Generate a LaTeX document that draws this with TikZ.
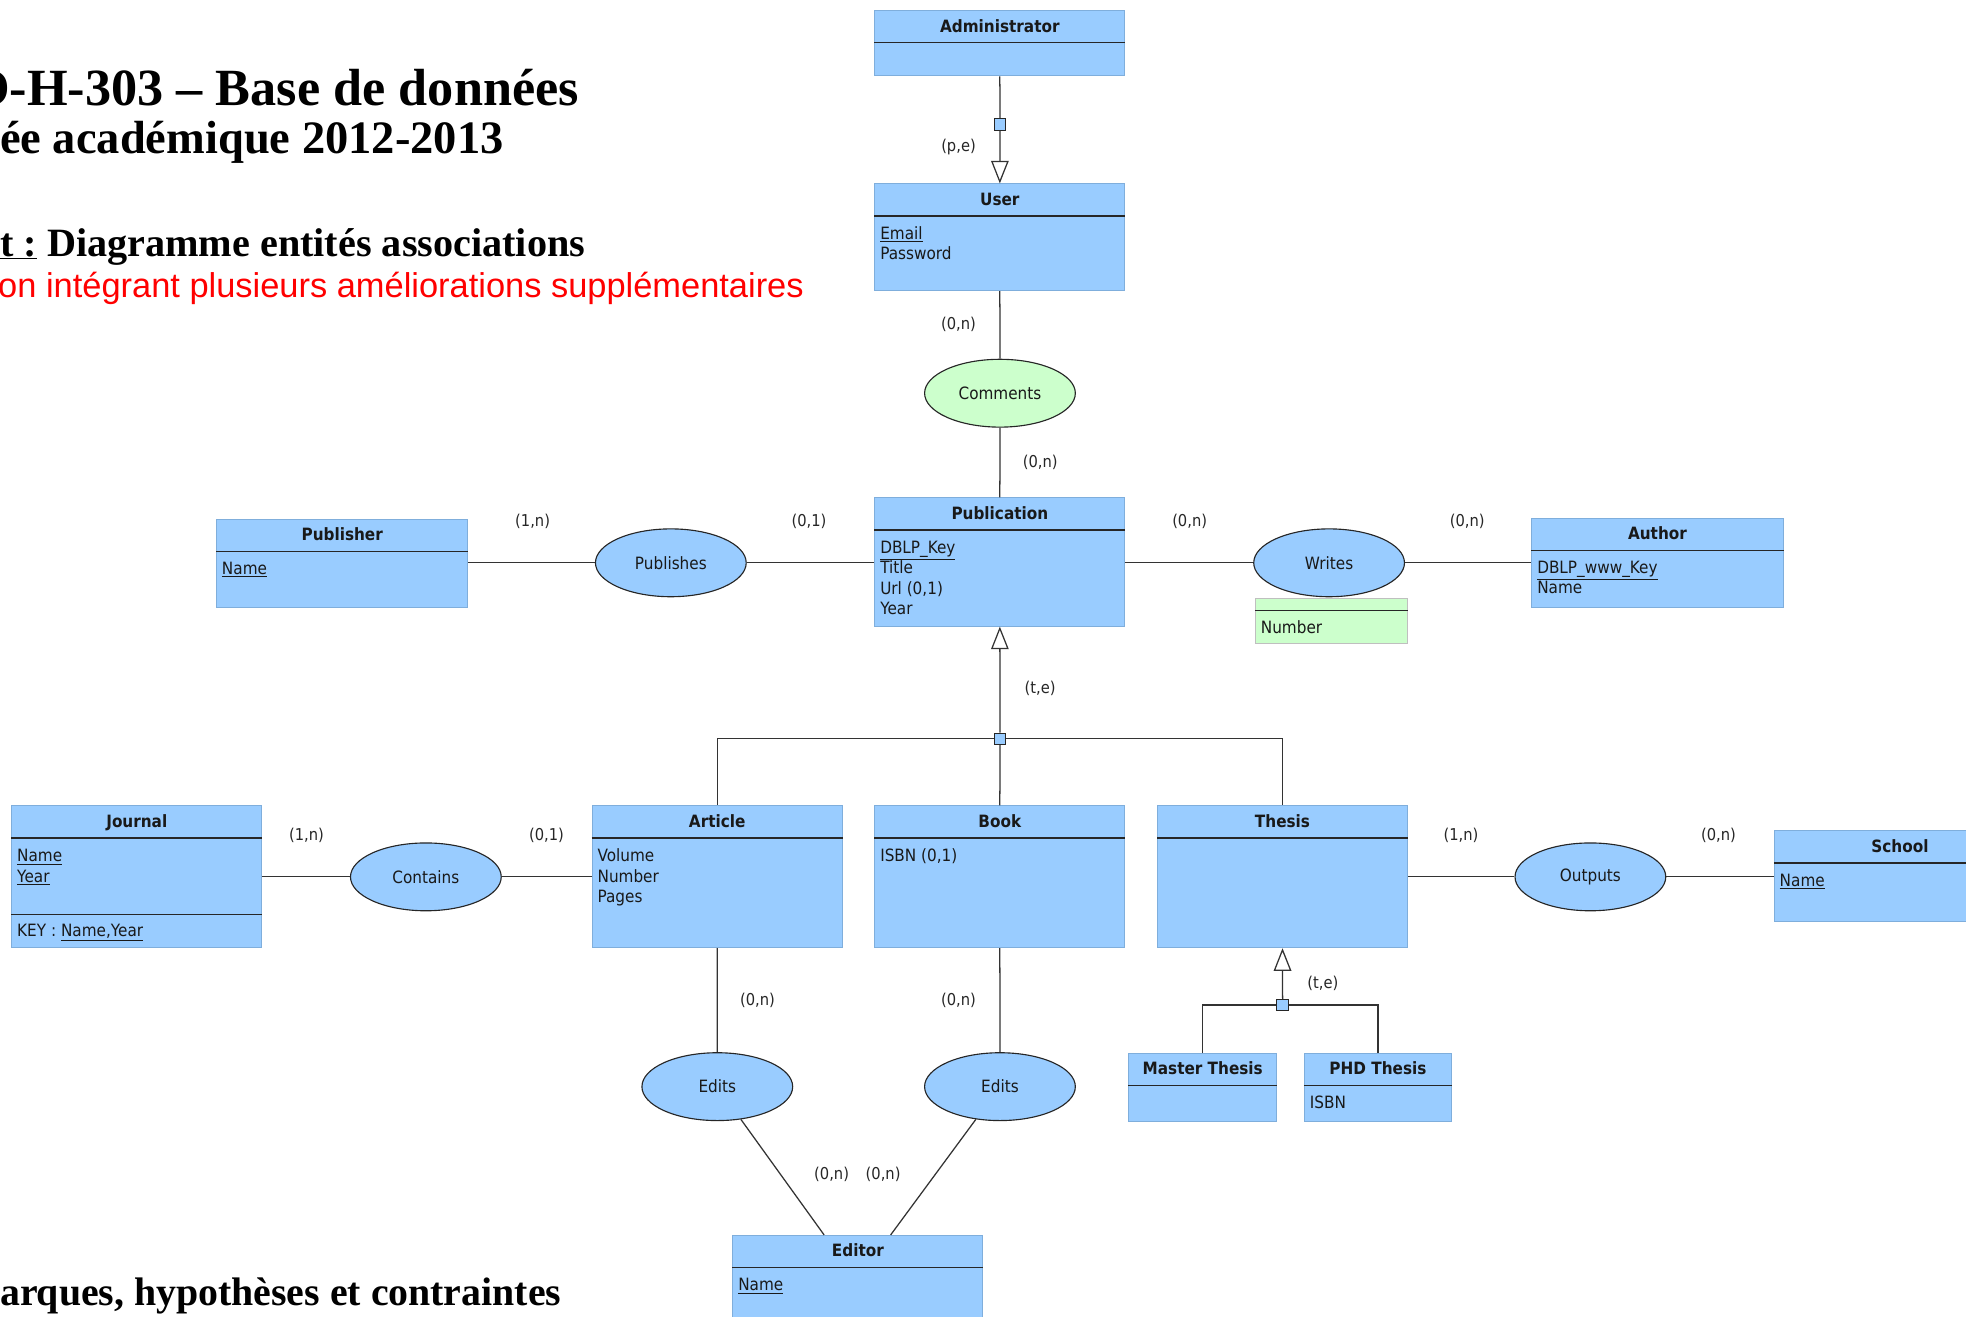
\documentclass[tikz,border=0pt]{standalone}
\usepackage{fontspec}
\setmainfont{DejaVu Sans}[FakeStretch=0.9]
\newfontfamily\hdserif{Liberation Serif}
\newfontfamily\hdsans{Liberation Sans}
\usetikzlibrary{arrows.meta,calc,shapes.geometric}
\definecolor{eblue}{HTML}{99CCFF}
\definecolor{eborder}{HTML}{7FAEDC}
\definecolor{egreen}{HTML}{CCFFCC}
\definecolor{lnk}{HTML}{333333}
\definecolor{hdred}{HTML}{FF0000}
\tikzset{
 ebox/.style={rectangle, fill=eblue, draw=eborder, line width=0.8pt, inner sep=0pt},
 gbox/.style={rectangle, fill=egreen, draw=black!25, line width=0.8pt, inner sep=0pt},
 sepline/.style={draw=black!85, line width=1.1pt},
 etitle/.style={font=\fontsize{13.5}{16}\selectfont\bfseries, inner sep=0pt, text=black!90},
 eattr/.style={font=\fontsize{13.5}{16}\selectfont, inner sep=0pt, text=black!90},
 rel/.style={ellipse, fill=eblue, draw=black!85, line width=0.9pt, minimum width=120pt, minimum height=54pt, inner sep=0pt, font=\fontsize{13.5}{16}\selectfont, text=black!90},
 card/.style={font=\fontsize{13}{16}\selectfont, inner sep=0pt, text=black!85},
 link/.style={draw=lnk, line width=1pt},
 isabox/.style={rectangle, fill=eblue, draw=black!85, line width=0.8pt, minimum size=9pt, inner sep=0pt},
 gentip/.style={-{Triangle[open, width=14pt, length=18pt, line width=1pt]}},
 heading/.style={anchor=base east, inner sep=0pt},
}
\newcommand{\entity}[5]{%
  \node[ebox, minimum width=#3pt, minimum height=#4pt, anchor=north west] (#1) at (#2) {};
  \draw[sepline] ([yshift=-26pt]#1.north west) -- ([yshift=-26pt]#1.north east);
  \node[etitle, anchor=base] (#1-t) at ([yshift=-17.5pt]#1.north) {#5};
}
\newcommand{\attrs}[3]{%
  \foreach \a [count=\i] in {#3} {
    \node[eattr, anchor=base west] (#1-a\i) at ([xshift=4.5pt, yshift={-(#2pt)-(\i-1)*16.3pt}]#1.north west) {\a};
  }
}
\begin{document}
\begin{tikzpicture}[x=1pt,y=-1pt]
\useasboundingbox (0,0) rectangle (1565,1047.6);
\clip (0,0) rectangle (1565,1047.6);

% headings
\node[heading, font={\hdserif\bfseries\fontsize{41.6}{44}\selectfont}] (h1) at (461,84) {O-H-303 – Base de données};
\node[heading, font={\hdserif\bfseries\fontsize{37}{40}\selectfont}] (h2) at (401,122) {ée académique 2012-2013};
\node[heading, font={\hdserif\bfseries\fontsize{32}{36}\selectfont}] (h3) at (466,204) {\underline{t :} Diagramme entités associations};
\node[heading, font={\hdsans\fontsize{27.4}{30}\selectfont}, text=hdred] (h4) at (640,237) {on intégrant plusieurs améliorations supplémentaires};
\node[heading, font={\hdserif\bfseries\fontsize{31.7}{35}\selectfont}] (h5) at (447,1039) {arques, hypothèses et contraintes};

% entities
\entity{admin}{696,8}{199}{52}{Administrator}
\entity{user}{696,146}{199}{85}{User}
\attrs{user}{44.5}{\underline{Email},Password}
\entity{pub}{696,396}{199}{102}{Publication}
\attrs{pub}{44.5}{\underline{DBLP\_Key},Title,{Url (0,1)},Year}
\entity{publisher}{172,413}{200}{70}{Publisher}
\attrs{publisher}{44.5}{\underline{Name}}
\entity{author}{1219,412}{200}{71}{Author}
\attrs{author}{44.5}{\underline{DBLP\_www\_Key},Name}
\entity{journal}{9,641}{199}{113}{Journal}
\attrs{journal}{45}{\underline{Name},\underline{Year}}
\draw[sepline] ([yshift=-87pt]journal.north west) -- ([yshift=-87pt]journal.north east);
\node[eattr, anchor=base west] (journal-key) at ([xshift=4.5pt, yshift=-104.5pt]journal.north west) {KEY : \underline{Name,Year}};
\entity{article}{471,641}{199}{113}{Article}
\attrs{article}{45}{Volume,Number,Pages}
\entity{book}{696,641}{199}{113}{Book}
\attrs{book}{45}{{ISBN (0,1)}}
\entity{thesis}{921,641}{199}{113}{Thesis}
\entity{school}{1412,661}{200}{72}{School}
\attrs{school}{44.5}{\underline{Name}}
\entity{master}{898,838}{118}{54}{Master Thesis}
\entity{phd}{1038,838}{117}{54}{PHD Thesis}
\attrs{phd}{44.5}{ISBN}
\entity{editor}{583,983}{199}{85}{Editor}
\attrs{editor}{44.5}{\underline{Name}}

% relationship attribute box
\node[gbox, minimum width=121pt, minimum height=36pt, anchor=north west] (wnum) at (999,476) {};
\draw[sepline] ([yshift=-10pt]wnum.north west) -- ([yshift=-10pt]wnum.north east);
\node[eattr, anchor=base west] (wnum-a1) at ([xshift=4.5pt, yshift=-28pt]wnum.north west) {Number};

% relationships
\node[rel, fill=egreen] (comments) at (796,313) {Comments};
\node[rel] (publishes) at (534,448) {Publishes};
\node[rel] (writes) at (1058,448) {Writes};
\node[rel] (contains) at (339,698) {Contains};
\node[rel] (outputs) at (1266,698) {Outputs};
\node[rel] (edits1) at (571,865) {Edits};
\node[rel] (edits2) at (796,865) {Edits};

% isa squares
\node[isabox] (isa1) at (796,99) {};
\node[isabox] (isa2) at (796,588) {};
\node[isabox] (isa3) at (1021,800) {};

% connectors
\draw[link] (admin.south) -- (isa1.north);
\draw[link, gentip] (isa1.south) -- (user.north);
\draw[link] (user.south) -- (comments.north);
\draw[link] (comments.south) -- (pub.north);
\draw[link] (publisher.east |- publishes.west) -- (publishes.west);
\draw[link] (publishes.east) -- (publishes.east -| pub.west);
\draw[link] (pub.east |- writes.west) -- (writes.west);
\draw[link] (writes.east) -- (writes.east -| author.west);
\draw[link, gentip] (isa2.north) -- (pub.south);
\draw[link] (isa2.west) -| (article.north);
\draw[link] (isa2.east) -| (thesis.north);
\draw[link] (isa2.south) -- (book.north);
\draw[link] (journal.east |- contains.west) -- (contains.west);
\draw[link] (contains.east) -- (contains.east -| article.west);
\draw[link] (thesis.east |- outputs.west) -- (outputs.west);
\draw[link] (outputs.east) -- (outputs.east -| school.west);
\draw[link, gentip] (isa3.north) -- (thesis.south);
\draw[link] (isa3.west) -| (master.north);
\draw[link] (isa3.east) -| (phd.north);
\draw[link] (article.south) -- (edits1.north);
\draw[link] (book.south) -- (edits2.north);
\coordinate (edA) at ([xshift=73pt]editor.north west);
\coordinate (edB) at ([xshift=126pt]editor.north west);
\draw[link] (edits1) -- (edA);
\draw[link] (edits2) -- (edB);

% cardinalities
\node[card] (c1) at (763,117) {(p,e)};
\node[card] (c2) at (763,258) {(0,n)};
\node[card] (c3) at (828,368) {(0,n)};
\node[card] (c4) at (424,415) {(1,n)};
\node[card] (c5) at (644,415) {(0,1)};
\node[card] (c6) at (947,415) {(0,n)};
\node[card] (c7) at (1168,415) {(0,n)};
\node[card] (c8) at (828,548) {(t,e)};
\node[card] (c9) at (244,665) {(1,n)};
\node[card] (c10) at (435,665) {(0,1)};
\node[card] (c11) at (1163,665) {(1,n)};
\node[card] (c12) at (1368,665) {(0,n)};
\node[card] (c13) at (603,796) {(0,n)};
\node[card] (c14) at (763,796) {(0,n)};
\node[card] (c15) at (1053,783) {(t,e)};
\node[card] (c16) at (662,935) {(0,n)};
\node[card] (c17) at (703,935) {(0,n)};
\end{tikzpicture}
\end{document}
